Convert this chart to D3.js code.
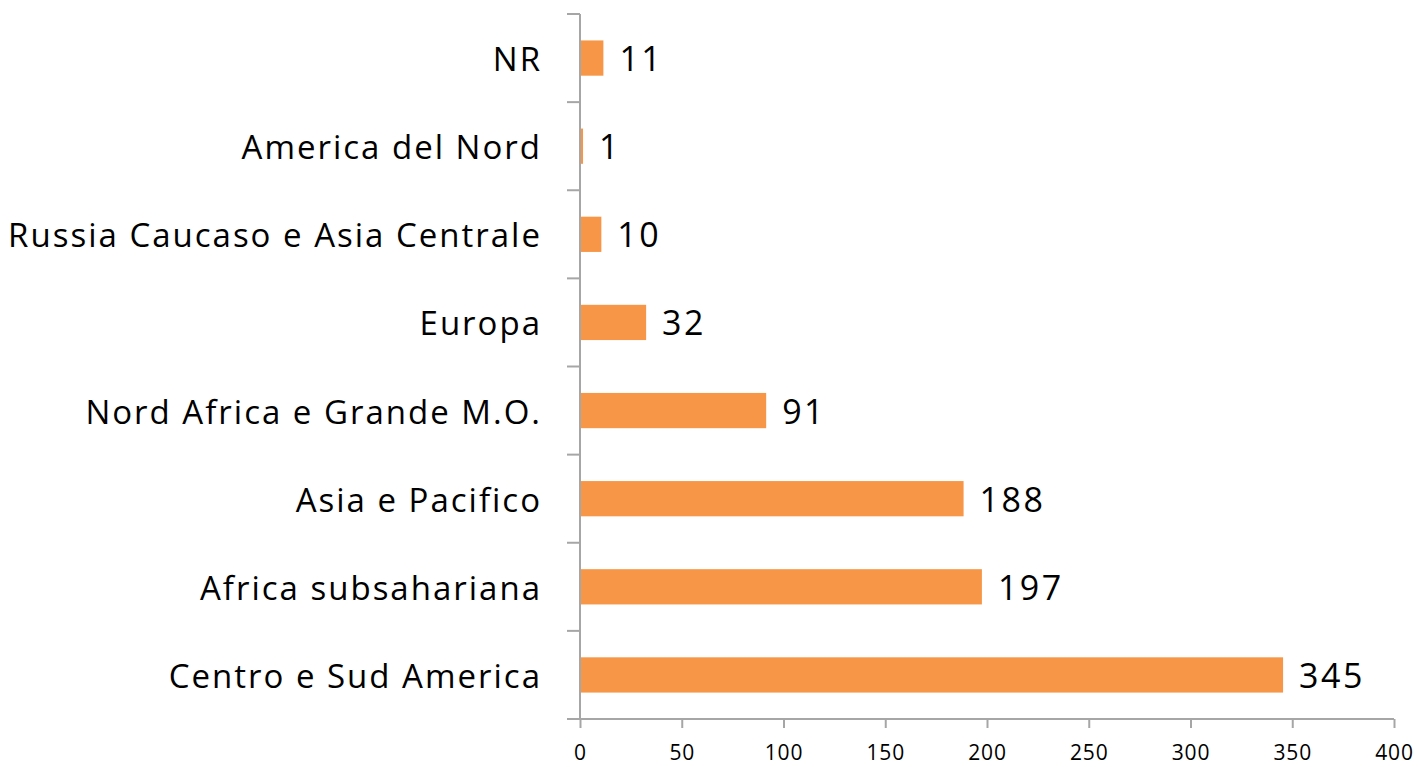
<!DOCTYPE html>
<html lang="it">
<head>
  <meta charset="UTF-8">
  <script src="https://d3js.org/d3.v7.min.js"></script>
  <style>
    body { margin: 0; background: #fff; }
    text { font-family: "Open Sans", sans-serif; fill: #000; }
    .axis path, .axis line { stroke: #a6a6a6; stroke-width: 2px; }
  </style>
</head>
<body>
  <script>
    const categories = ["NR", "America del Nord", "Russia Caucaso e Asia Centrale", "Europa",
      "Nord Africa e Grande M.O.", "Asia e Pacifico", "Africa subsahariana", "Centro e Sud America"];
    const values = [11, 1, 10, 32, 91, 188, 197, 345];
    const xTicks = [0, 50, 100, 150, 200, 250, 300, 350, 400];

    const width = 1419, height = 767;
    const plotLeft = 580, plotRight = 1394, plotTop = 14, plotBottom = 719;

    const svg = d3.select("body").append("svg").attr("width", width).attr("height", height);

    const x = d3.scaleLinear().domain([0, 400]).range([plotLeft, plotRight]);
    const y = d3.scaleBand().domain(categories).range([plotTop, plotBottom]).paddingInner(0.6).paddingOuter(0.3);

    // y axis line + tick marks at band boundaries
    const step = (plotBottom - plotTop) / categories.length;
    svg.append("line")
      .attr("x1", plotLeft).attr("x2", plotLeft).attr("y1", plotTop).attr("y2", plotBottom)
      .attr("stroke", "#a6a6a6").attr("stroke-width", 2);
    svg.selectAll(".ytick").data(d3.range(categories.length + 1)).join("line")
      .attr("x1", plotLeft - 13).attr("x2", plotLeft)
      .attr("y1", i => plotTop + i * step).attr("y2", i => plotTop + i * step)
      .attr("stroke", "#a6a6a6").attr("stroke-width", 2);

    // x axis
    const xAxis = svg.append("g").attr("class", "axis")
      .attr("transform", `translate(0,${plotBottom})`)
      .call(d3.axisBottom(x).tickValues(xTicks).tickSize(9).tickSizeOuter(0));
    xAxis.select(".domain").attr("d", `M${plotLeft - 13},0H${plotRight}`);
    xAxis.selectAll("text").attr("font-size", 21).attr("y", 26)
      .style("font-family", "Open Sans").style("letter-spacing", "0.8px");

    // bars
    svg.selectAll(".bar").data(values).join("rect")
      .attr("x", x(0) + 1)
      .attr("y", (d, i) => y(categories[i]))
      .attr("width", d => x(d) - x(0))
      .attr("height", y.bandwidth())
      .attr("fill", "#f79646");

    // value labels
    svg.selectAll(".val").data(values).join("text")
      .attr("x", d => x(d) + 17)
      .attr("y", (d, i) => y(categories[i]) + y.bandwidth() / 2 + 13)
      .attr("font-size", 34)
      .style("letter-spacing", "2.5px")
      .text(d => d);

    // category labels
    svg.selectAll(".cat").data(categories).join("text")
      .attr("x", 542)
      .attr("y", d => y(d) + y.bandwidth() / 2 + 13)
      .attr("text-anchor", "end")
      .attr("font-size", 33)
      .style("letter-spacing", "2px")
      .text(d => d);
  </script>
</body>
</html>
